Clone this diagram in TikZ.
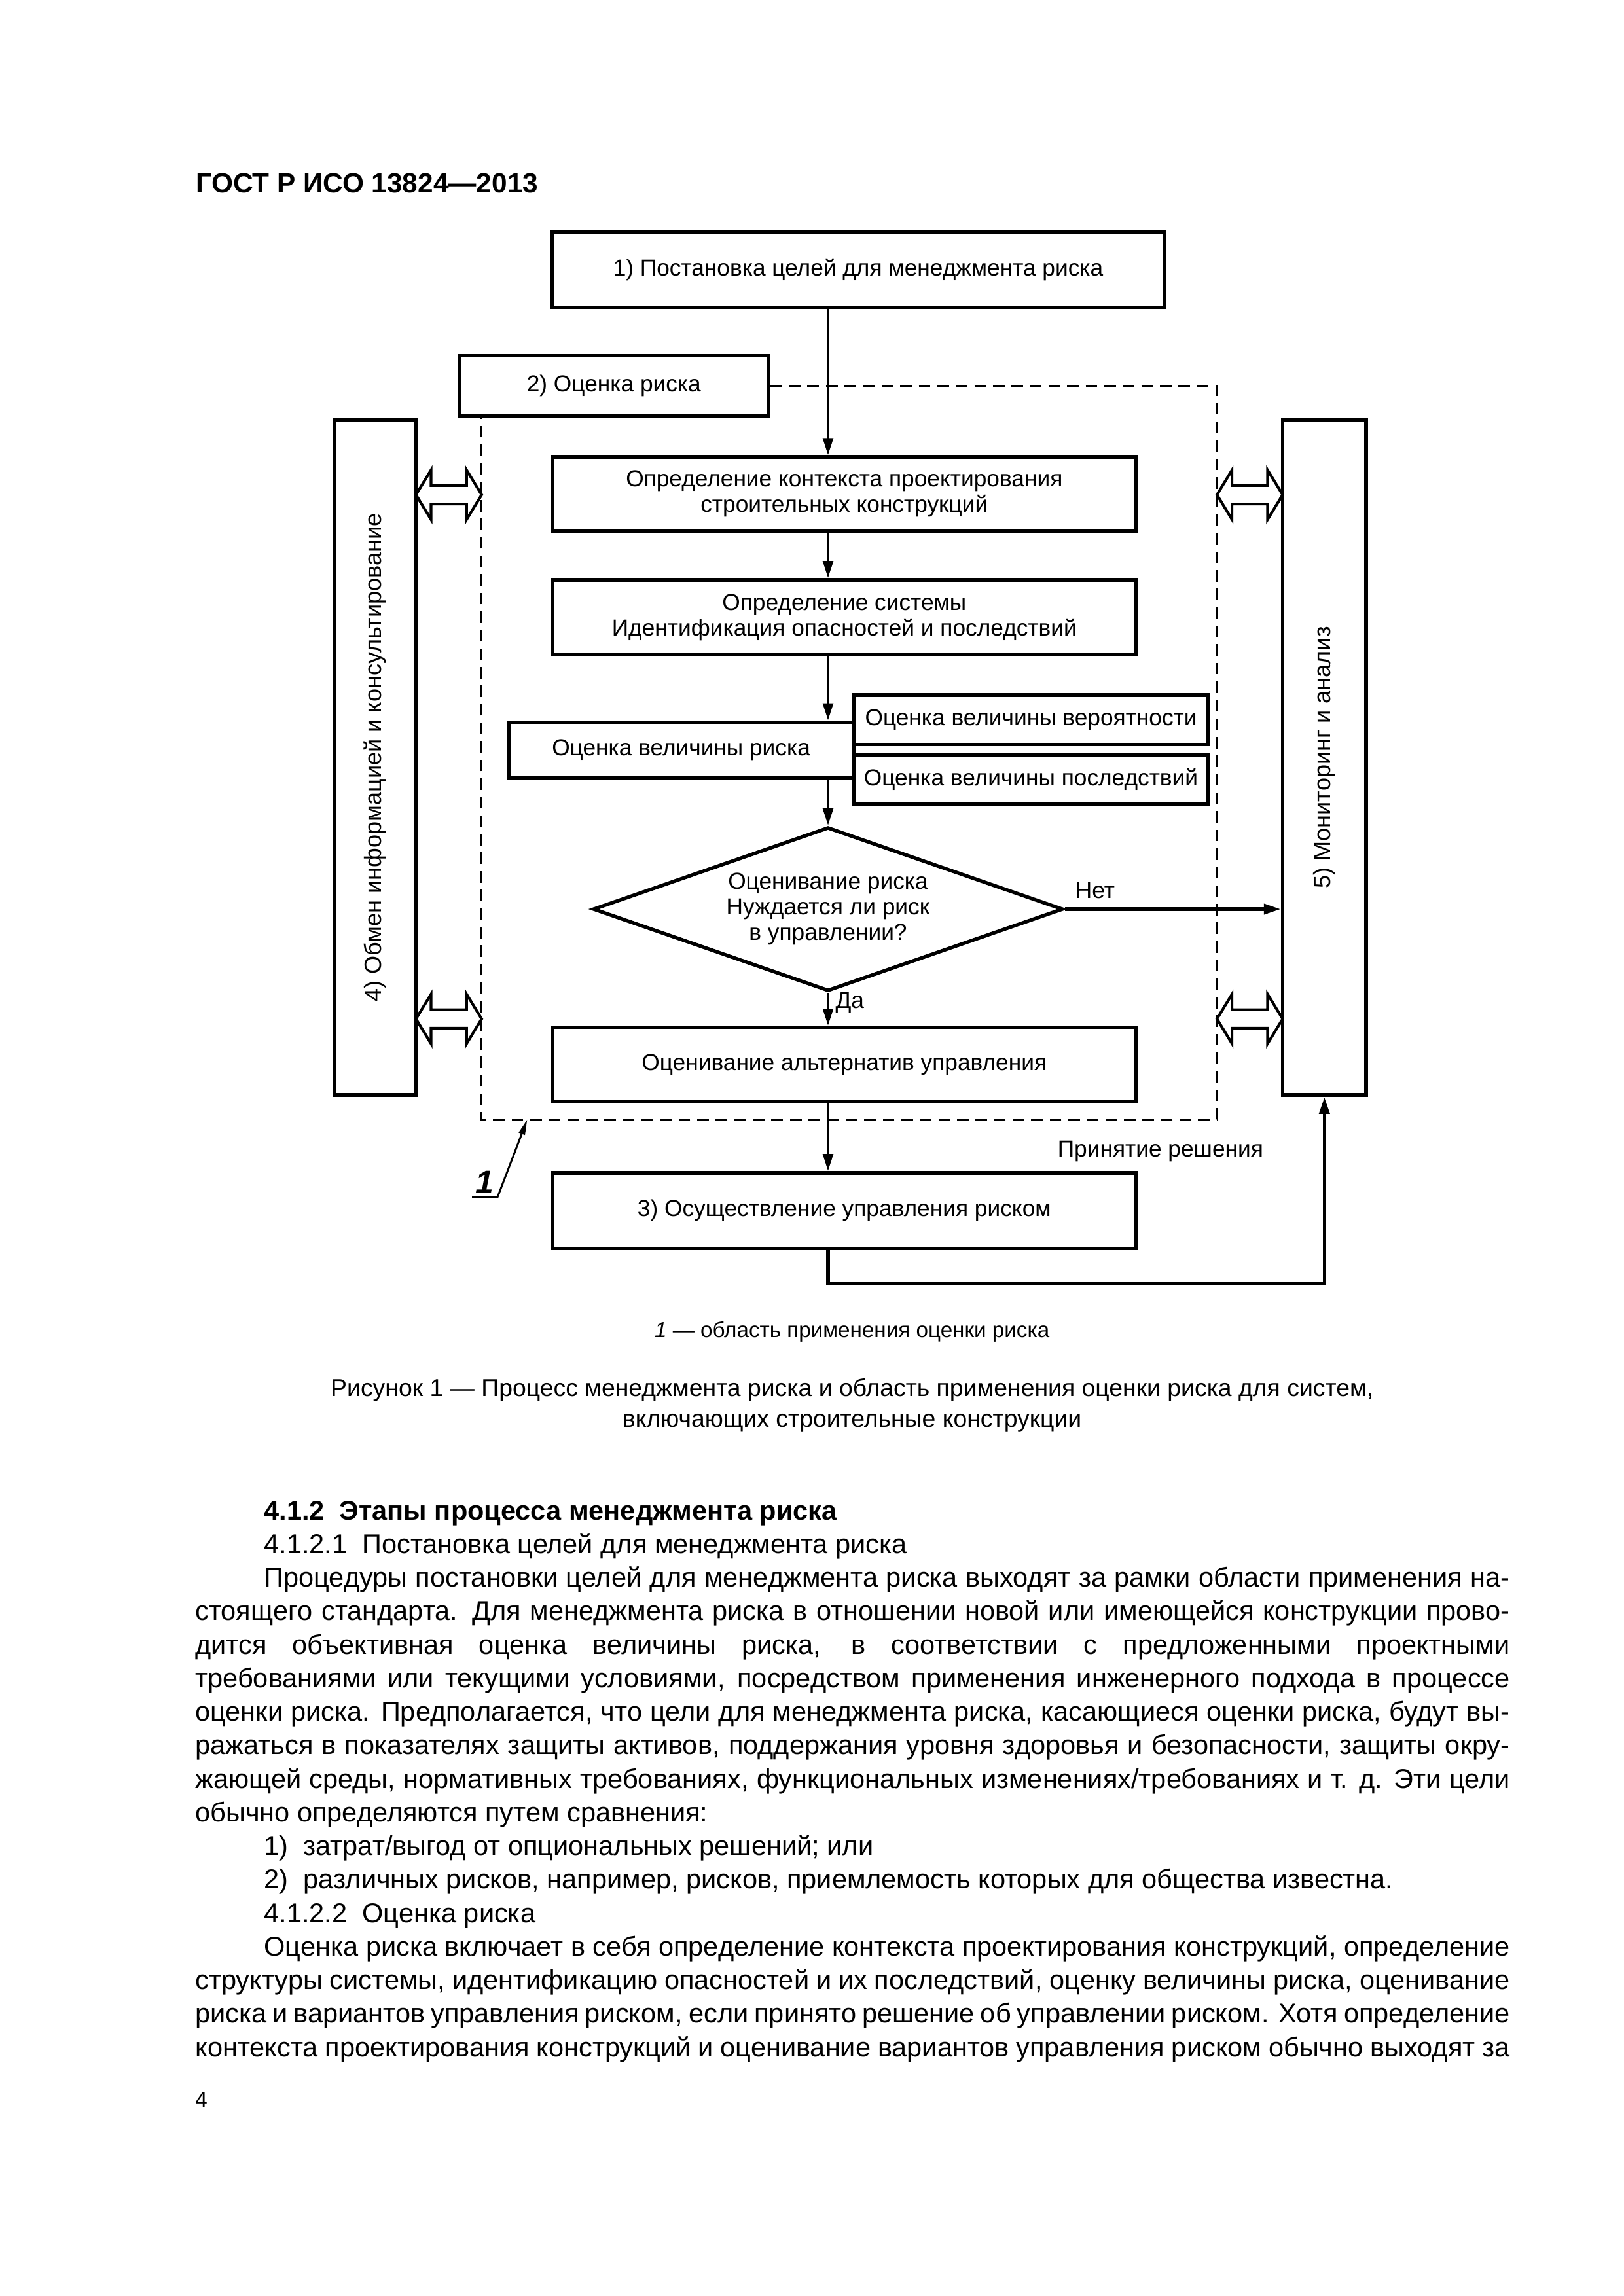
\documentclass[tikz,border=0pt]{standalone}
\usepackage{fontspec}
\setmainfont{Liberation Sans}
\usetikzlibrary{shapes.geometric,arrows.meta}

\newcommand{\dgfont}{\fontsize{8.5}{9.4}\selectfont}
\newcommand{\bodyfont}{\fontsize{10}{12.3}\selectfont}
\newcommand{\jline}[2]{\makebox[#1][s]{#2}}

\tikzstyle{blk} = [draw, line width=1.3pt, inner sep=0pt, align=center, font=\dgfont]
\tikzstyle{zone} = [line width=0.7pt, dash pattern=on 1.5mm off 0.9mm]
\tikzstyle{flow} = [line width=1pt, ->]
\tikzstyle{dbl} = [line width=1pt, fill=white]
\tikzstyle{txt} = [inner sep=0pt, anchor=base west, font=\bodyfont]

\begin{document}
\begin{tikzpicture}[x=1mm,y=-1mm,>={Triangle[length=2.2mm,width=1.3mm]}]
\useasboundingbox (0,0) rectangle (210,297);

\node[txt, font=\fontsize{10.2}{12}\selectfont\bfseries] (head) at (25.3,24.9) {ГОСТ Р ИСО 13824—2013};

% blocks
\node[blk, minimum width=79.2mm, minimum height=9.7mm] (goal) at (111.0,34.9) {1) Постановка целей для менеджмента риска};
\node[blk, minimum width=40.0mm, minimum height=7.8mm] (assess) at (79.4,49.9) {2) Оценка риска};
\node[blk, minimum width=10.6mm, minimum height=87.3mm, font=\fontsize{8.7}{10}\selectfont] (info) at (48.5,98.0) {\rotatebox{90}{4) Обмен информацией и консультирование}};
\node[blk, minimum width=10.8mm, minimum height=87.3mm, font=\fontsize{8.7}{10}\selectfont] (monit) at (171.3,98.0) {\rotatebox{90}{5) Мониторинг и анализ}};
\node[blk, minimum width=75.4mm, minimum height=9.6mm] (ctx) at (109.2,63.9) {Определение контекста проектирования\\строительных конструкций};
\node[blk, minimum width=75.4mm, minimum height=9.7mm] (sys) at (109.2,79.85) {Определение системы\\Идентификация опасностей и последствий};
\node[blk, minimum width=44.6mm, minimum height=7.2mm] (risk) at (88.1,97.0) {Оценка величины риска};
\node[blk, minimum width=45.9mm, minimum height=6.4mm] (prob) at (133.35,93.1) {Оценка величины вероятности};
\node[blk, minimum width=45.9mm, minimum height=6.4mm] (cons) at (133.35,100.8) {Оценка величины последствий};
\node[blk, diamond, aspect=2.87, minimum width=60.8mm, minimum height=21.2mm] (dia) at (107.1,117.6) {Оценивание риска\\Нуждается ли риск\\в управлении?};
\node[blk, minimum width=75.4mm, minimum height=9.6mm] (alt) at (109.2,137.7) {Оценивание альтернатив управления};
\node[blk, minimum width=75.4mm, minimum height=9.8mm] (impl) at (109.2,156.6) {3) Осуществление управления риском};
\node[font=\dgfont] (decis) at (150.1,148.9) {Принятие решения};

% area of risk assessment
\coordinate (zoneSE) at (157.4,144.8);
\coordinate (zoneSW) at (62.3,144.8);
\draw[zone] (assess.east) -| (zoneSE) -- (zoneSW) -- (zoneSW |- assess.south);

\foreach \xa/\xb in {53.8/62.3, 157.4/165.9}
  \foreach \yc in {64.0, 131.8}
    \draw[dbl] (\xa,\yc) -- (\xa+1.95,\yc-3.2) -- (\xa+1.95,\yc-1.2) -- (\xb-1.95,\yc-1.2) -- (\xb-1.95,\yc-3.2) -- (\xb,\yc)
      -- (\xb-1.95,\yc+3.2) -- (\xb-1.95,\yc+1.2) -- (\xa+1.95,\yc+1.2) -- (\xa+1.95,\yc+3.2) -- cycle;

% flow
\coordinate (axis) at (107.1,0);
\coordinate (back) at (monit.south |- 0,166.0);
\draw[flow] (goal.south -| axis) -- (ctx.north -| axis);
\draw[flow] (ctx.south -| axis) -- (sys.north -| axis);
\draw[flow] (sys.south -| axis) -- (risk.north -| axis);
\draw[flow] (risk.south -| axis) -- (dia.north);
\draw[flow] (dia.south) -- node[right, pos=0.3, font=\dgfont, inner sep=0.8mm] {Да} (alt.north -| axis);
\draw[flow] (alt.south -| axis) -- (impl.north -| axis);
\draw[flow, line width=1.3pt] (dia.east) -- node[above, pos=0.14, font=\dgfont] {Нет} (dia.east -| monit.west);
\draw[flow, line width=1.3pt] (impl.south -| axis) |- (back) -- (monit.south);

\node[font=\fontsize{12}{12}\selectfont\bfseries\itshape, anchor=base, inner sep=0.4mm] (one) at (62.7,154.4) {1};
\coordinate (zonemark) at (68.2,144.8);
\draw[line width=0.7pt, -{Triangle[length=2mm,width=0.8mm]}] (one.south west) -- (one.south east) -- (zonemark);

% captions
\node[font=\fontsize{8}{9.6}\selectfont] (key) at (110.2,172.3) {\textit{1} — область применения оценки риска};
\node[font=\fontsize{9}{11.3}\selectfont, align=center] (cap) at (110.2,181.8) {Рисунок 1 — Процесс менеджмента риска и область применения оценки риска для систем,\\включающих строительные конструкции};

% text
\node[txt] (l0) at (34.1,196.6) {\textbf{4.1.2\ \ Этапы процесса менеджмента риска}};
\node[txt] (l1) at (34.1,200.94) {4.1.2.1\ \ Постановка целей для менеджмента риска};
\node[txt] (l2) at (34.1,205.28) {\jline{161.1mm}{Процедуры постановки целей для менеджмента риска выходят за рамки области применения на-}};
\node[txt] (l3) at (25.2,209.62) {\jline{170mm}{стоящего стандарта. Для менеджмента риска в отношении новой или имеющейся конструкции прово-}};
\node[txt] (l4) at (25.2,213.96) {\jline{170mm}{дится объективная оценка величины риска, в соответствии с предложенными проектными}};
\node[txt] (l5) at (25.2,218.30) {\jline{170mm}{требованиями или текущими условиями, посредством применения инженерного подхода в процессе}};
\node[txt] (l6) at (25.2,222.63) {\jline{170mm}{оценки риска. Предполагается, что цели для менеджмента риска, касающиеся оценки риска, будут вы-}};
\node[txt] (l7) at (25.2,226.97) {\jline{170mm}{ражаться в показателях защиты активов, поддержания уровня здоровья и безопасности, защиты окру-}};
\node[txt] (l8) at (25.2,231.31) {\jline{170mm}{жающей среды, нормативных требованиях, функциональных изменениях/требованиях и т. д. Эти цели}};
\node[txt] (l9) at (25.2,235.65) {обычно определяются путем сравнения:};
\node[txt] (l10) at (34.1,239.99) {1)\ \ затрат/выгод от опциональных решений; или};
\node[txt] (l11) at (34.1,244.33) {2)\ \ различных рисков, например, рисков, приемлемость которых для общества известна.};
\node[txt] (l12) at (34.1,248.67) {4.1.2.2\ \ Оценка риска};
\node[txt] (l13) at (34.1,253.01) {\jline{161.1mm}{Оценка риска включает в себя определение контекста проектирования конструкций, определение}};
\node[txt] (l14) at (25.2,257.35) {\jline{170mm}{структуры системы, идентификацию опасностей и их последствий, оценку величины риска, оценивание}};
\node[txt] (l15) at (25.2,261.69) {\jline{170mm}{риска и вариантов управления риском, если принято решение об управлении риском. Хотя определение}};
\node[txt] (l16) at (25.2,266.02) {\jline{170mm}{контекста проектирования конструкций и оценивание вариантов управления риском обычно выходят за}};

\node[txt, font=\fontsize{8}{10}\selectfont] (page) at (25.2,272.6) {4};
\end{tikzpicture}
\end{document}
